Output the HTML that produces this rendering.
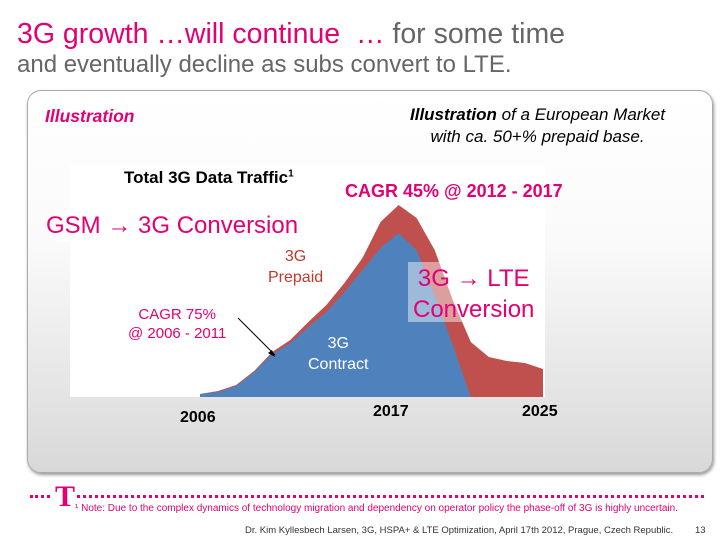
<!DOCTYPE html>
<html><head><meta charset="utf-8"><style>
body{margin:0;width:728px;height:546px;background:#fff;position:relative;overflow:hidden;font-family:"Liberation Sans",sans-serif}
.a{position:absolute;white-space:nowrap}
.m{color:#e20074}
</style></head><body>
<div class="a m" style="left:17px;top:18px;font-size:28.5px">3G growth …will continue &nbsp;… <span style="color:#666">for some time</span></div>
<div class="a" style="left:17px;top:51px;font-size:24px;color:#666">and eventually decline as subs convert to LTE.</div>
<div class="a" style="left:27px;top:90px;width:684px;height:381px;border:1px solid #aaa;border-radius:14px;background:linear-gradient(#fff 0%,#fafafa 40%,#e4e4e4 80%,#d8d8d8 100%);box-shadow:1px 2px 3px #999"></div>
<div class="a" style="left:70px;top:165px;width:475px;height:232px;background:#fff"></div>
<div class="a m" style="left:45px;top:106px;font-size:17.5px;font-weight:bold;font-style:italic">Illustration</div>
<div class="a" style="left:410px;top:104px;font-size:17px;font-style:italic;text-align:center;line-height:22px"><b>Illustration</b> of a European Market<br>with ca. 50+% prepaid base.</div>
<div class="a" style="left:124px;top:168px;font-size:17px;font-weight:bold">Total 3G Data Traffic<sup style="font-size:10px">1</sup></div>
<div class="a m" style="left:345px;top:181px;font-size:18px;font-weight:bold">CAGR 45% @ 2012 - 2017</div>
<svg class="a" style="left:0;top:0" width="728" height="546">
<g id="areas"></g>
<line x1="238" y1="318" x2="275" y2="355" stroke="#000" stroke-width="1"/>
<polygon points="275,357 268,353 272,350" fill="#000"/>
<rect x="408" y="262" width="56" height="60" fill="#fff" fill-opacity="0.45"/>
<rect x="55" y="210" width="250" height="32" fill="#fff" fill-opacity="0.9"/>
</svg>
<div class="a m" style="left:46px;top:212px;font-size:24px">GSM → 3G Conversion</div>
<div class="a" style="left:268px;top:246px;font-size:16px;color:#c0392b;text-align:center;line-height:21px">3G<br>Prepaid</div>
<div class="a" style="left:308px;top:333px;font-size:16px;color:#fff;text-align:center;line-height:21px">3G<br>Contract</div>
<div class="a m" style="left:413px;top:263px;font-size:24px;text-align:center;line-height:31px">3G → LTE<br>Conversion</div>
<div class="a m" style="left:125px;top:305px;font-size:15px;text-align:center;line-height:19px;background:#fff;padding:0 3px">CAGR 75%<br>@ 2006 - 2011</div>
<div class="a" style="left:180px;top:409px;font-size:16px;font-weight:bold">2006</div>
<div class="a" style="left:373px;top:403px;font-size:16px;font-weight:bold">2017</div>
<div class="a" style="left:522px;top:403px;font-size:16px;font-weight:bold">2025</div>
<div class="a" style="left:30px;top:495px;width:674px;border-top:3px dotted #e20074"></div>
<div class="a m" style="left:53px;top:480px;font-size:30px;font-family:'Liberation Serif',serif;font-weight:bold;background:#fff;padding:0 2px">T</div>
<div class="a m" style="left:75px;top:503px;font-size:10px">¹ Note: Due to the complex dynamics of technology migration and dependency on operator policy the phase-off of 3G is highly uncertain.</div>
<div class="a" style="left:245px;top:525px;font-size:9.5px;color:#333">Dr. Kim Kyllesbech Larsen, 3G, HSPA+ &amp; LTE Optimization, April 17th 2012, Prague, Czech Republic.</div>
<div class="a" style="left:695px;top:525px;font-size:9.5px;color:#333">13</div>
<script>
const years=[2006,2007,2008,2009,2010,2011,2012,2013,2014,2015,2016,2017,2018,2019,2020,2021,2022,2023,2024,2025];
const contract=[3,5,11,25,43,54,70,85,105,127,149,164,147,102,52,0,0,0,0,0];
const total=[3,6,12,26,45,57,75,92,114,139,175,192,179,147,97,55,40,36,34,28];
function xs(y){return 200+(y-2006)*(543-200)/19;}
function ys(v){return 397-v;}
const g=document.getElementById('areas');
function area(vals,color,name){
 let p=years.map((y,i)=>xs(y)+','+ys(vals[i]));
 p.push(xs(years[years.length-1])+','+ys(0));p.push(xs(years[0])+','+ys(0));
 const el=document.createElementNS('http://www.w3.org/2000/svg','polygon');
 el.setAttribute('points',p.join(' '));el.setAttribute('fill',color);
 
 
 g.appendChild(el);
}
area(total,'#c0504d','prepaid-area');
area(contract,'#4f81bd','contract-area');
</script>
</body></html>
